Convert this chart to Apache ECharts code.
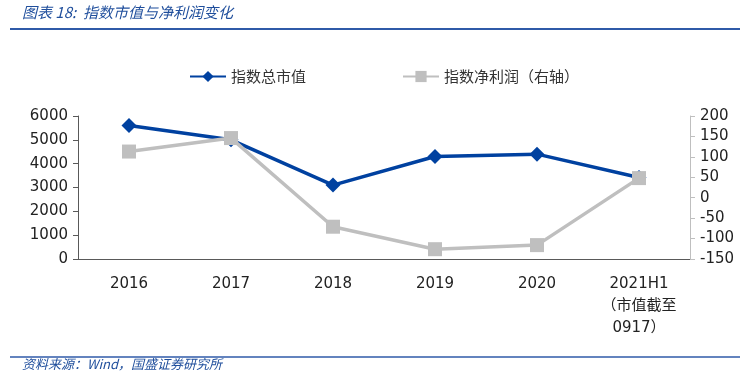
<!DOCTYPE html>
<html><head><meta charset="utf-8">
<script src="https://cdn.jsdelivr.net/npm/echarts@6/dist/echarts.min.js"></script>
<style>html,body{margin:0;padding:0;background:#fff}#c{width:749px;height:378px}</style>
</head><body><div id="c"></div>
<script>
const categories = ['2016','2017','2018','2019','2020','2021H1\n（市值截至\n0917）'];
const marketCap = [5600, 5000, 3100, 4300, 4400, 3420];
const netProfit = [113, 146, -71, -126, -116, 48];
const leftTicks = {min:0, max:6000, interval:1000};
const rightTicks = {min:-150, max:200, interval:50};

const chart = echarts.init(document.getElementById('c'));
const font = '"Noto Sans CJK SC", "Noto Sans", sans-serif';
const numFont = '"DejaVu Sans", "Noto Sans CJK SC", sans-serif';
chart.setOption({
  animation:false,
  textStyle:{fontFamily:font},
  graphic:[
    {type:'text', left:22, top:5, style:{text:'图表 18:  指数市值与净利润变化', fill:'#1f4e9c', font:'italic 15px '+font}},
    {type:'line', shape:{x1:10,y1:29,x2:740,y2:29}, style:{stroke:'#2f5aa8', lineWidth:2}},
    {type:'line', shape:{x1:10,y1:357,x2:740,y2:357}, style:{stroke:'#2f5aa8', lineWidth:1.5}},
    {type:'text', left:22, top:358, style:{text:'资料来源：Wind，国盛证券研究所', fill:'#1f4e9c', font:'italic 13px '+font}}
  ],
  legend:{
    top:64, left:184, itemGap:96, itemWidth:36, itemHeight:14,
    textStyle:{fontSize:15, color:'#333', fontFamily:font},
    data:[{name:'指数总市值'},{name:'指数净利润（右轴）'}]
  },
  grid:{left:78, right:59, top:116, bottom:119},
  xAxis:{
    type:'category', data:categories, boundaryGap:true,
    axisLine:{lineStyle:{color:'#595959', width:1}},
    axisTick:{inside:true, length:5, lineStyle:{color:'#595959'}},
    axisLabel:{fontSize:15, color:'#222', margin:14, lineHeight:22, fontFamily:numFont, interval:0}
  },
  yAxis:[
    {type:'value', min:leftTicks.min, max:leftTicks.max, interval:leftTicks.interval,
     splitLine:{show:false},
     axisLine:{show:true, lineStyle:{color:'#595959'}},
     axisTick:{show:true, length:5, lineStyle:{color:'#595959'}},
     axisLabel:{fontSize:15, color:'#222', margin:10, fontFamily:numFont, formatter:v=>String(v)}},
    {type:'value', min:rightTicks.min, max:rightTicks.max, interval:rightTicks.interval,
     splitLine:{show:false},
     axisLine:{show:true, lineStyle:{color:'#bfbfbf'}},
     axisTick:{show:true, length:5, lineStyle:{color:'#bfbfbf'}},
     axisLabel:{fontSize:15, color:'#222', margin:10, fontFamily:numFont, formatter:v=>String(v)}}
  ],
  series:[
    {name:'指数总市值', type:'line', data:marketCap, yAxisIndex:0,
     symbol:'diamond', symbolSize:15, itemStyle:{color:'#0041a0'},
     lineStyle:{color:'#0041a0', width:3.5}, z:2},
    {name:'指数净利润（右轴）', type:'line', data:netProfit, yAxisIndex:1,
     symbol:'rect', symbolSize:14, itemStyle:{color:'#bfbfbf'},
     lineStyle:{color:'#bfbfbf', width:3.5}, z:3}
  ]
});
</script></body></html>
